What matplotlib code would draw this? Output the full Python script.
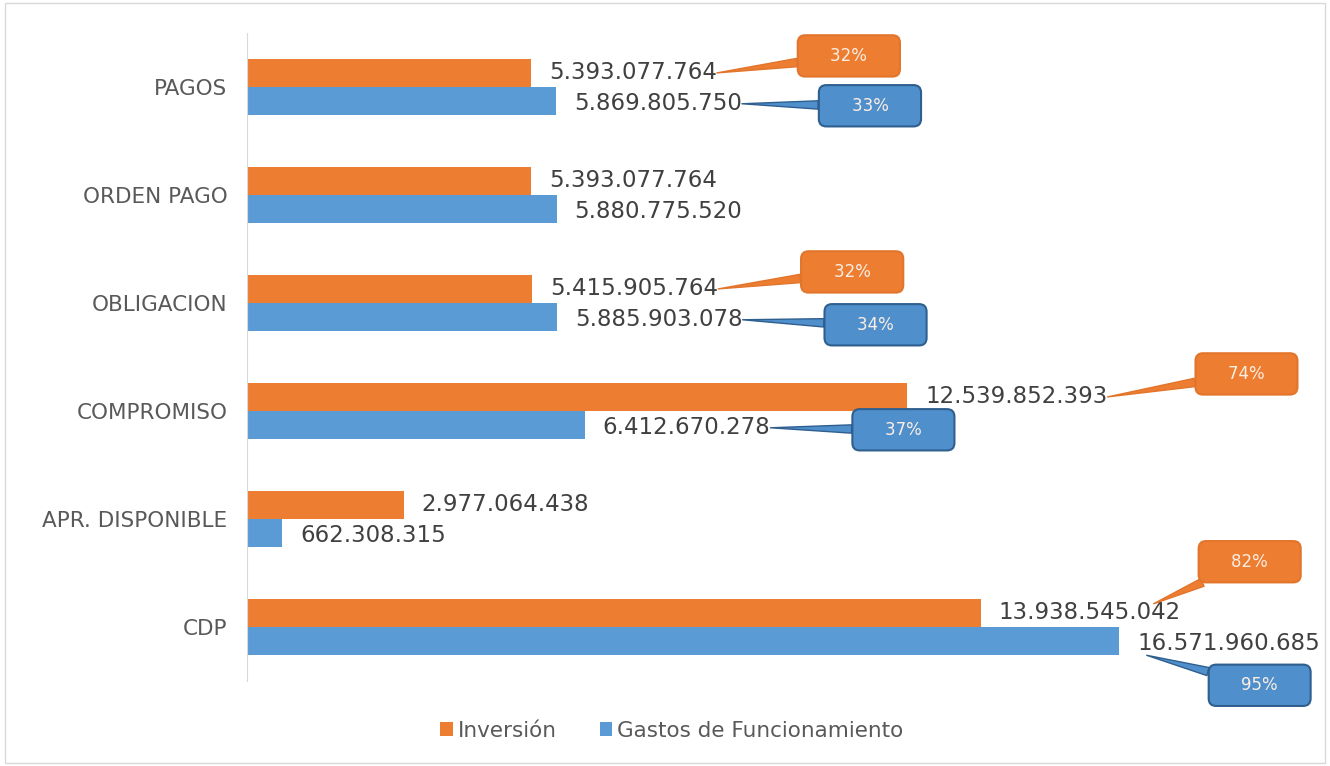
import matplotlib.pyplot as plt
from matplotlib.patches import Rectangle

categorias = ['PAGOS', 'ORDEN PAGO', 'OBLIGACION', 'COMPROMISO', 'APR. DISPONIBLE', 'CDP']
inversion = [5393077764, 5393077764, 5415905764, 12539852393, 2977064438, 13938545042]
gastos = [5869805750, 5880775520, 5885903078, 6412670278, 662308315, 16571960685]
pct_inversion = ['32%', None, '32%', '74%', None, '82%']
pct_gastos = ['33%', None, '34%', '37%', None, '95%']

naranja = '#ED7D31'
azul = '#5B9BD5'
gris = '#595959'

# callout placement: (anchor fraction on value label, offset in pixels)
pos_inv = [((1, 0.5), (132, 17)), None, ((1, 0.5), (134, 17)), ((1, 0.5), (139, 23)), None, ((0.85, 0.9), (96, 42))]
pos_gas = [((1, 0.5), (128, -2)), None, ((1, 0.5), (133, -5)), ((1, 0.5), (133, -2)), None, ((0.05, 0.0), (113, -30))]


def fmt(v):
    return f'{v:,}'.replace(',', '.')


fig = plt.figure(figsize=(13.3, 7.66), dpi=100)
ax = fig.add_axes([0.1857, 0.111, 0.7917, 0.846])
fig.patches.append(Rectangle((0.004, 0.004), 0.992, 0.992, transform=fig.transFigure,
                             fill=False, ec='#d9d9d9', lw=1))

y = list(range(len(categorias)))
h = 0.26
ax.barh([i - h / 2 for i in y], inversion, height=h, color=naranja, label='Inversión')
ax.barh([i + h / 2 for i in y], gastos, height=h, color=azul, label='Gastos de Funcionamiento')

ax.set_xlim(0, 20e9)
ax.set_ylim(len(categorias) - 0.5, -0.5)
ax.set_yticks(y)
ax.set_yticklabels(categorias, fontsize=15.5, color=gris)
ax.tick_params(axis='y', length=0, pad=14)
ax.set_xticks([])
for s in ['top', 'right', 'bottom']:
    ax.spines[s].set_visible(False)
ax.spines['left'].set_color('#d9d9d9')


def callout(lbl, pct, pos, fc, ec):
    (fx, fy), off = pos
    ax.annotate('    ' + pct + '    ', xy=(fx, fy), xycoords=lbl, xytext=off,
                textcoords='offset pixels', ha='center', va='center',
                color='#fbeee4', fontsize=12,
                bbox=dict(boxstyle='round,pad=0.7,rounding_size=0.45', fc=fc, ec=ec, lw=1.5),
                arrowprops=dict(arrowstyle='wedge,tail_width=0.5,shrink_factor=0.5',
                                fc=fc, ec=ec, lw=1, shrinkA=0, shrinkB=0))


for i in y:
    li = ax.annotate(fmt(inversion[i]), xy=(inversion[i], i - h / 2), xytext=(13, 0),
                     textcoords='offset points', va='center', fontsize=16.5, color='#404040')
    lg = ax.annotate(fmt(gastos[i]), xy=(gastos[i], i + h / 2), xytext=(13, -2),
                     textcoords='offset points', va='center', fontsize=16.5, color='#404040')
    if pct_inversion[i]:
        callout(li, pct_inversion[i], pos_inv[i], naranja, '#e2752c')
    if pct_gastos[i]:
        callout(lg, pct_gastos[i], pos_gas[i], '#4f8fcc', '#2f5f8f')

fig.legend(loc='center', bbox_to_anchor=(0.505, 0.046), ncol=2, frameon=False,
           fontsize=15.5, labelcolor=gris, handlelength=0.6, handleheight=0.6,
           handletextpad=0.2, columnspacing=2.0)

fig.savefig('out.png', dpi=100)
